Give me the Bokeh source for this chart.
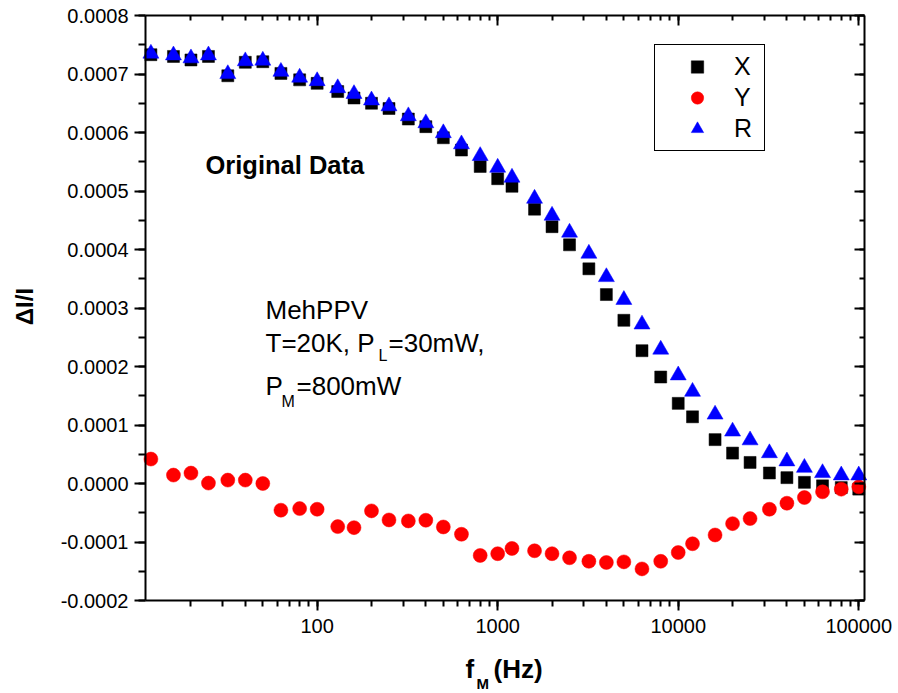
import numpy as np
from bokeh.plotting import figure
from bokeh.models import (LogAxis, LinearAxis, Range1d, SingleIntervalTicker, LogTicker,
                          PrintfTickFormatter, CustomJSTickFormatter, Legend, LegendItem,
                          Label, ColumnDataSource)
from bokeh.embed import file_html
from bokeh.resources import INLINE

# ---------------- data ----------------
freq = [12, 16, 20, 25, 32, 40, 50, 63, 80, 100,
        130, 160, 200, 250, 320, 400, 500, 630, 800, 1000,
        1200, 1600, 2000, 2500, 3200, 4000, 5000, 6300, 8000, 10000,
        12000, 16000, 20000, 25000, 32000, 40000, 50000, 63000, 80000, 100000]

x_sig = [0.000733, 0.000730, 0.000724, 0.000730, 0.000697, 0.000720, 0.000721, 0.000701, 0.000690, 0.000684,
         0.000670, 0.000659, 0.000650, 0.000641, 0.000623, 0.000610, 0.000591, 0.000570, 0.000542, 0.000521,
         0.000508, 0.000469, 0.000439, 0.000408, 0.000367, 0.000323, 0.000279, 0.000227, 0.000182, 0.000137,
         0.000114, 0.000075, 0.000052, 0.000036, 0.000018, 0.000010, 0.000002, -0.000004, -0.000007, -0.0000096]

y_sig = [0.0000418, 0.0000144, 0.0000178, 0.0000007, 0.0000058, 0.0000058, 0.0000000, -0.0000456, -0.0000429, -0.0000440,
         -0.0000737, -0.0000755, -0.0000468, -0.0000623, -0.0000640, -0.0000628, -0.0000743, -0.0000868, -0.0001230, -0.0001200,
         -0.0001110, -0.0001150, -0.0001200, -0.0001270, -0.0001330, -0.0001350, -0.0001340, -0.0001460, -0.0001330, -0.0001180,
         -0.0001030, -0.0000880, -0.0000686, -0.0000600, -0.0000440, -0.0000337, -0.0000240, -0.0000142, -0.0000097, -0.0000057]

r_sig = [0.000735, 0.000732, 0.000727, 0.000732, 0.000700, 0.000722, 0.000723, 0.000704, 0.000694, 0.000688,
         0.000676, 0.000666, 0.000655, 0.000645, 0.000628, 0.000616, 0.000599, 0.000580, 0.000560, 0.000540,
         0.000523, 0.000487, 0.000458, 0.000429, 0.000393, 0.000353, 0.000314, 0.000272, 0.000229, 0.000185,
         0.000157, 0.000118, 0.000089, 0.000074, 0.000052, 0.000038, 0.000027, 0.000018, 0.000014, 0.000014]

x_axis_range = (11.2, 107600)
y_axis_range = (-0.0002, 0.0008)
y_tick_step = 0.0001

FONT = "Liberation Sans"

# ---------------- layout ----------------
# The plot box is 145..864 px wide and 15..600 px tall; the Bokeh frame is
# stretched over the whole canvas so that the axis titles and subscripts can be
# drawn as labels, and the four axes are pinned at the box edges (fixed_location).
W, H = 898, 693
BOX_TOP, BOX_BOTTOM, BOX_LEFT, BOX_RIGHT = 15, 600, 145, 864
lx0, lx1 = np.log10(x_axis_range[0]), np.log10(x_axis_range[1])
ppd = (BOX_RIGHT - BOX_LEFT) / (lx1 - lx0)
frame_x = (10 ** (lx0 - BOX_LEFT / ppd), 10 ** (lx1 + (W - BOX_RIGHT) / ppd))
yspan = y_axis_range[1] - y_axis_range[0]
ppv = (BOX_BOTTOM - BOX_TOP) / yspan
frame_y = (y_axis_range[0] - (H - BOX_BOTTOM) / ppv, y_axis_range[1] + BOX_TOP / ppv)

src = ColumnDataSource(dict(f=freq, X=x_sig, Y=y_sig, R=r_sig))

p = figure(width=W, height=H, x_axis_type="log",
           x_range=Range1d(*frame_x), y_range=Range1d(*frame_y),
           output_backend="svg", toolbar_location=None,
           min_border_left=0, min_border_right=0,
           min_border_top=0, min_border_bottom=0)
p.xgrid.visible = False
p.ygrid.visible = False
p.outline_line_color = None
p.background_fill_color = "white"
p.border_fill_color = "white"

# ---------------- axes ----------------
yt = SingleIntervalTicker(interval=y_tick_step, num_minor_ticks=2)
xt = LogTicker(num_minor_ticks=10)

yax = p.yaxis[0]
yax.ticker = yt
yax.bounds = y_axis_range
yax.fixed_location = x_axis_range[0]
yax.formatter = PrintfTickFormatter(format="%.4f")
xax = p.xaxis[0]
xax.ticker = xt
xax.bounds = x_axis_range
xax.fixed_location = y_axis_range[0]
xax.formatter = PrintfTickFormatter(format="%d")

for ax in (yax, xax):
    ax.axis_line_width = 2
    ax.major_tick_line_width = 2
    ax.minor_tick_line_width = 2
    ax.major_tick_in = 0
    ax.minor_tick_in = 0
    ax.major_label_text_font = FONT
    ax.major_label_text_font_size = "20px"
    ax.major_label_text_color = "black"
    ax.axis_line_color = "black"
    ax.major_tick_line_color = "black"
    ax.minor_tick_line_color = "black"

yax.major_tick_out = 11
yax.minor_tick_out = 7
yax.major_label_standoff = 6
xax.major_tick_out = 10
xax.minor_tick_out = 6
xax.major_label_standoff = 8

blank = CustomJSTickFormatter(code="return ''")
top = LogAxis(ticker=xt, formatter=blank, bounds=x_axis_range,
              fixed_location=y_axis_range[1])
right = LinearAxis(ticker=yt, formatter=blank, bounds=y_axis_range,
                   fixed_location=x_axis_range[1])
for ax in (top, right):
    ax.axis_line_width = 2
    ax.major_tick_line_width = 2
    ax.minor_tick_line_width = 2
    ax.major_tick_in = 10
    ax.major_tick_out = 0
    ax.minor_tick_in = 5
    ax.minor_tick_out = 0
    ax.major_label_text_font_size = "1px"
    ax.major_label_standoff = 0
    ax.axis_label_standoff = 0
p.add_layout(top, "above")
p.add_layout(right, "right")

# ---------------- data markers ----------------
rx = p.scatter("f", "X", source=src, marker="square", size=12,
               fill_color="black", line_color="black", line_width=0.5)
ry = p.scatter("f", "Y", source=src, marker="circle", size=14,
               fill_color="#FF0000", line_color="#FF0000", line_width=0.5)
rr = p.scatter("f", "R", source=src, marker="triangle", size=16,
               fill_color="#0000FF", line_color="#0000FF", line_width=0.5)

legend = Legend(items=[LegendItem(label="X", renderers=[rx]),
                       LegendItem(label="Y", renderers=[ry]),
                       LegendItem(label="R", renderers=[rr])],
                location=(654, H - 151), orientation="vertical",
                label_text_font=FONT, label_text_font_size="25px", label_text_color="black",
                border_line_color="black", border_line_width=1.5, border_line_alpha=1,
                background_fill_color="white", background_fill_alpha=1,
                padding=6, spacing=0, margin=0,
                glyph_width=72, glyph_height=31, label_standoff=1, label_width=24, label_height=31)
p.add_layout(legend)

# ---------------- text (canvas px; y = middle of the capitals) ----------------
def lab(text, cx, cy, size, bold=False, **kw):
    l = Label(x=cx, y=H - cy, x_units="screen", y_units="screen", text=text,
              text_font=FONT, text_font_size=size,
              text_font_style="bold" if bold else "normal",
              text_color="black", text_baseline="middle",
              text_align=kw.pop("align", "left"), **kw)
    p.add_layout(l)
    return l

lab("Original Data", 205, 164, "25.5px", bold=True)
lab("MehPPV", 265, 309, "26px")
lab("T=20K, P", 265, 342.5, "26px")
lab("L", 378, 355, "16px")
lab("=30mW,", 388, 342.5, "26px")
lab("P", 265, 385.5, "26px")
lab("M", 281, 401, "16px")
lab("=800mW", 296, 385.5, "26px")

# axis titles
lab("f", 465, 668, "26px", bold=True)
lab("M", 476, 683, "15px", bold=True)
lab("(Hz)", 493, 668, "26px", bold=True)
lab("\u0394I/I", 24, 306, "24px", bold=True, angle=np.pi / 2, align="center")

open("out.html", "w").write(file_html(p, INLINE))
